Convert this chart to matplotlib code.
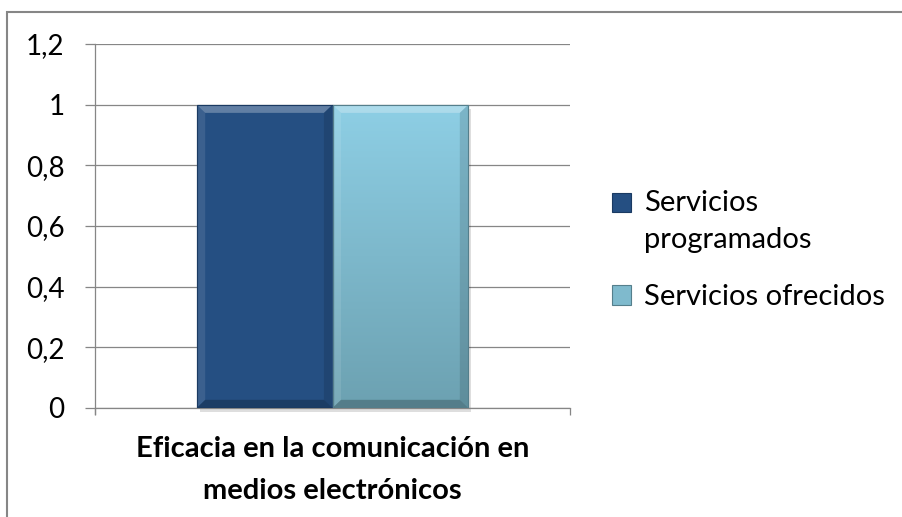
import matplotlib
matplotlib.use("Agg")
import matplotlib.pyplot as plt
import numpy as np
from matplotlib.patches import Rectangle, Patch, Polygon
from matplotlib.legend_handler import HandlerPatch

categories = ["Eficacia en la comunicación en\nmedios electrónicos"]
series_names = ["Servicios\nprogramados", "Servicios ofrecidos"]
values_programados = [1.0]
values_ofrecidos = [1.0]
y_ticks = [0, 0.2, 0.4, 0.6, 0.8, 1.0, 1.2]
y_tick_labels = ["0", "0,2", "0,4", "0,6", "0,8", "1", "1,2"]

plt.rcParams['font.family'] = ['Lato', 'DejaVu Sans']

W, H = 902, 517
fig = plt.figure(figsize=(W / 100, H / 100), dpi=100)
ax = fig.add_axes([95 / W, 1 - 408 / H, 475 / W, 364 / H])

gray = "#868686"
x = np.arange(len(categories))
w = 0.286

dark = "#254F82"
light_top = np.array([0x8E, 0xCF, 0xE5]) / 255
light_bot = np.array([0x6C, 0xA1, 0xB1]) / 255

b1 = ax.bar(x - w / 2, values_programados, w, color=dark, edgecolor="#1A3A62",
            linewidth=0.8, zorder=3, label=series_names[0])
b2 = ax.bar(x + w / 2, values_ofrecidos, w, color="#7FBACD", edgecolor="#557F8C",
            linewidth=0.8, zorder=3, label=series_names[1])

# gradient styling for the light bar
grad = np.linspace(0, 1, 256)[:, None]
img = light_top[None, None, :] * (1 - grad[..., None]) + light_bot[None, None, :] * grad[..., None]
for p in b2:
    x0, y0, pw, ph = p.get_x(), p.get_y(), p.get_width(), p.get_height()
    im = ax.imshow(img, extent=(x0, x0 + pw, y0, y0 + ph), aspect="auto",
                   zorder=3.5, origin="upper")
    im.set_clip_path(p)

# bevel + shadow styling
bx, by = 0.018, 0.027
for bars in (b1, b2):
    for p in bars:
        x0, y0, pw, ph = p.get_x(), p.get_y(), p.get_width(), p.get_height()
        x1, y1 = x0 + pw, y0 + ph
        ax.add_patch(Rectangle((x0 + 0.006, y0 - 0.014), pw, ph, color="#000000",
                               alpha=0.13, zorder=2.5, clip_on=False, lw=0))
        ax.add_patch(Polygon([(x0, y1), (x1, y1), (x1 - bx, y1 - by), (x0 + bx, y1 - by)],
                             closed=True, color="white", alpha=0.28, lw=0, zorder=4))
        ax.add_patch(Polygon([(x0, y0), (x0, y1), (x0 + bx, y1 - by), (x0 + bx, y0 + by)],
                             closed=True, color="white", alpha=0.10, lw=0, zorder=4))
        ax.add_patch(Polygon([(x1, y0), (x1, y1), (x1 - bx, y1 - by), (x1 - bx, y0 + by)],
                             closed=True, color="black", alpha=0.12, lw=0, zorder=4))
        ax.add_patch(Polygon([(x0, y0), (x1, y0), (x1 - bx, y0 + by), (x0 + bx, y0 + by)],
                             closed=True, color="black", alpha=0.22, lw=0, zorder=4))
        ax.add_patch(Rectangle((x0, y0), pw, ph, fill=False,
                               edgecolor=p.get_edgecolor(), lw=0.8, zorder=4.5))

ax.set_xlim(-0.5, 0.5)
ax.set_ylim(0, 1.2)
ax.set_yticks(y_ticks)
ax.set_yticklabels(y_tick_labels)
ax.yaxis.grid(True, color=gray, linewidth=0.9, zorder=0)
ax.set_axisbelow(True)
for s in ("top", "right"):
    ax.spines[s].set_visible(False)
for s in ("left", "bottom"):
    ax.spines[s].set_color(gray)
    ax.spines[s].set_linewidth(0.9)
ax.spines["left"].set_bounds(-0.02, 1.2)
ax.spines["left"].set_clip_on(False)

ax.tick_params(axis="y", length=7, width=0.9, color=gray, labelsize=20, pad=15,
               labelcolor="black")
ax.set_xticks([-0.5, 0.5])
ax.set_xticklabels(["", ""])
ax.tick_params(axis="x", which="major", length=5, width=0.9, color=gray)
ax.set_xticks(x, labels=categories, minor=True)
ax.tick_params(axis="x", which="minor", length=0, pad=20, labelsize=21)
for t in ax.get_xticklabels(minor=True):
    t.set_fontweight("bold")
    t.set_linespacing(1.75)


class TopAlignedHandler(HandlerPatch):
    """Square legend key aligned with the first text line of a multi-line label."""
    def __init__(self, n_lines, line_px, **kw):
        super().__init__(**kw)
        self.n_lines = n_lines
        self.line_px = line_px

    def create_artists(self, legend, orig_handle, xdescent, ydescent, width, height,
                       fontsize, trans):
        shift = (self.n_lines - 1) * self.line_px / 2 * 72 / fig.dpi
        r = Rectangle((-xdescent, -ydescent + shift), width, height,
                      facecolor=orig_handle.get_facecolor(),
                      edgecolor=orig_handle.get_edgecolor(), lw=0.8, transform=trans)
        return [r]


handles = [Patch(facecolor=dark, edgecolor="#1A3A62"),
           Patch(facecolor="#7FBACD", edgecolor="#557F8C")]
hmap = {h: TopAlignedHandler(lbl.count("\n") + 1, 39) for h, lbl in zip(handles, series_names)}
leg = fig.legend(handles, series_names, loc="center left", handler_map=hmap,
                 bbox_to_anchor=(586 / W, 1 - 250 / H), frameon=False, fontsize=21,
                 handlelength=0.65, handleheight=0.65, handletextpad=0.45, labelspacing=1.05)
for t in leg.get_texts():
    t.set_linespacing(1.55)

# chart border
fig.add_artist(Rectangle((7 / W, -0.05), 1.2, 1.05 - 12 / H, transform=fig.transFigure,
                         fill=False, edgecolor=gray, lw=1.5))

fig.savefig("out.png", dpi=100)
